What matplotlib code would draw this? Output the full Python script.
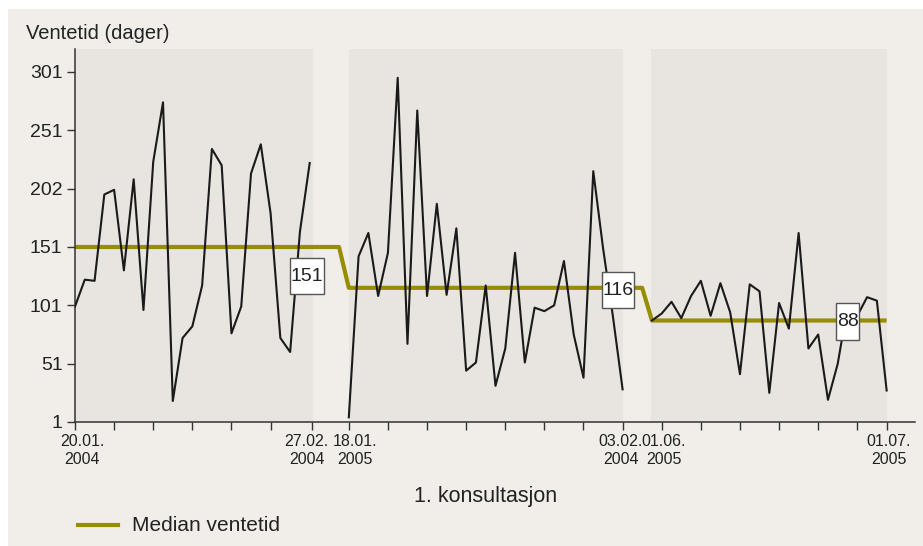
import matplotlib.pyplot as plt
import matplotlib.transforms as mtransforms
import numpy as np
from matplotlib.path import Path
from matplotlib.patches import Rectangle
from matplotlib.lines import Line2D

plt.rcParams['font.family'] = ['Liberation Sans', 'DejaVu Sans']

# Ventetid per dag, tre perioder
periode1 = [100, 123, 122, 196, 200, 131, 209, 97, 224, 275, 19, 73, 83, 118, 235,
            221, 77, 100, 214, 239, 180, 73, 61, 164, 223]
periode2 = [5, 143, 163, 109, 146, 296, 68, 268, 109, 188, 110, 167, 45, 52, 118,
            32, 64, 146, 52, 99, 96, 101, 139, 76, 39, 216, 150, 92, 29]
periode3 = [88, 94, 104, 90, 109, 122, 92, 120, 95, 42, 119, 113, 26, 103, 81,
            163, 64, 76, 20, 51, 100, 92, 108, 105, 28]
medianer = [151, 116, 88]
median_tekst = ["151", "116", "88"]

ytikker = [1, 51, 101, 151, 201, 251, 301]
ytikk_tekst = ["1", "51", "101", "151", "202", "251", "301"]
xtikk_tekst = {0: "20.01.\n2004", 24.2: "27.02.\n2004", 28: "18.01.\n2005",
               56: "03.02.\n2004", 60: "01.06.\n2005", 83: "01.07.\n2005"}
# liten forskyvning av etikettene (piksler)
xtikk_forskyv = {0: 7, 24.2: -5, 28: 6, 56: -2, 60: 2, 83: 2}

# x-posisjoner (indeks)
start = [0, 28, 59]
serier = [periode1, periode2, periode3]
xs = [s + np.arange(len(v)) for s, v in zip(start, serier)]

bg = '#f1eeea'
panel = '#e8e4df'
oliven = '#978d00'

fig = plt.figure(figsize=(9.23, 5.46), dpi=100)
fig.patches.append(Rectangle((8/923, 0), 1, 1 - 9/546, transform=fig.transFigure,
                             facecolor=bg, edgecolor='none', zorder=-10))
ax = fig.add_axes([75/923, 124/546, 840/923, 373/546])
ax.set_facecolor('none')

# skyggede perioder
for a, b in [(0, 24.3), (28, 56), (58.9, 83)]:
    ax.axvspan(a, b, color=panel, lw=0, zorder=0)

# medianlinje
mx = [0, 27, 28, 58, 59, xs[2][-1]]
my = [medianer[0], medianer[0], medianer[1], medianer[1], medianer[2], medianer[2]]
ax.plot(mx, my, color=oliven, lw=3, zorder=2, solid_capstyle='butt')

for x, v in zip(xs, serier):
    ax.plot(x, v, color='#1a1a1a', lw=1.5, zorder=3)


def hoy_boks(x0, y0, width, height, mutation_size):
    px = 0.03 * mutation_size
    py = 0.5 * mutation_size
    return Path([(x0 - px, y0 - py), (x0 + width + px, y0 - py),
                 (x0 + width + px, y0 + height + py), (x0 - px, y0 + height + py),
                 (x0 - px, y0 - py)], closed=True)


for (bx, by), t in zip([(23.7, 126), (55.5, 114), (79.0, 87)], median_tekst):
    ax.text(bx, by, t, ha='center', va='center', fontsize=14, color='#222222', zorder=5,
            bbox=dict(boxstyle=hoy_boks, fc='white', ec='#555555', lw=1))

ax.set_xlim(0, 85.9)
ax.set_ylim(1, 320.7)
ax.set_yticks(ytikker)
ax.set_yticklabels(ytikk_tekst, fontsize=14, color='#222222')
xt = [0, 4, 8, 12, 16, 20, 24.2, 28, 32, 36, 40, 44, 48, 52, 56, 60, 64, 68, 72, 76, 80, 83]
ax.set_xticks(xt)
ax.set_xticklabels([xtikk_tekst.get(t, "") for t in xt], fontsize=11.5, color='#222222',
                   linespacing=1.2)
ax.tick_params(direction='out', length=6, width=1, color='#333333', pad=3)
for t, lab in zip(xt, ax.get_xticklabels()):
    if t in xtikk_forskyv:
        off = mtransforms.ScaledTranslation(xtikk_forskyv[t] / 100, 0, fig.dpi_scale_trans)
        lab.set_transform(lab.get_transform() + off)

for s in ['top', 'right']:
    ax.spines[s].set_visible(False)
for s in ['left', 'bottom']:
    ax.spines[s].set_color('#333333')
    ax.spines[s].set_linewidth(1.1)

fig.text(26/923, (546-39)/546, "Ventetid (dager)", fontsize=14.5, color='#222222',
         ha='left', va='baseline')
fig.text(486/923, (546-502)/546, "1. konsultasjon", fontsize=15.5, color='#222222',
         ha='center', va='baseline')

fig.lines.append(Line2D([78/923, 118/923], [(546-525)/546] * 2, transform=fig.transFigure,
                        color=oliven, lw=3))
fig.text(132/923, (546-531)/546, "Median ventetid", fontsize=15, color='#222222',
         ha='left', va='baseline')

plt.savefig("out.png", dpi=100, facecolor='white')
